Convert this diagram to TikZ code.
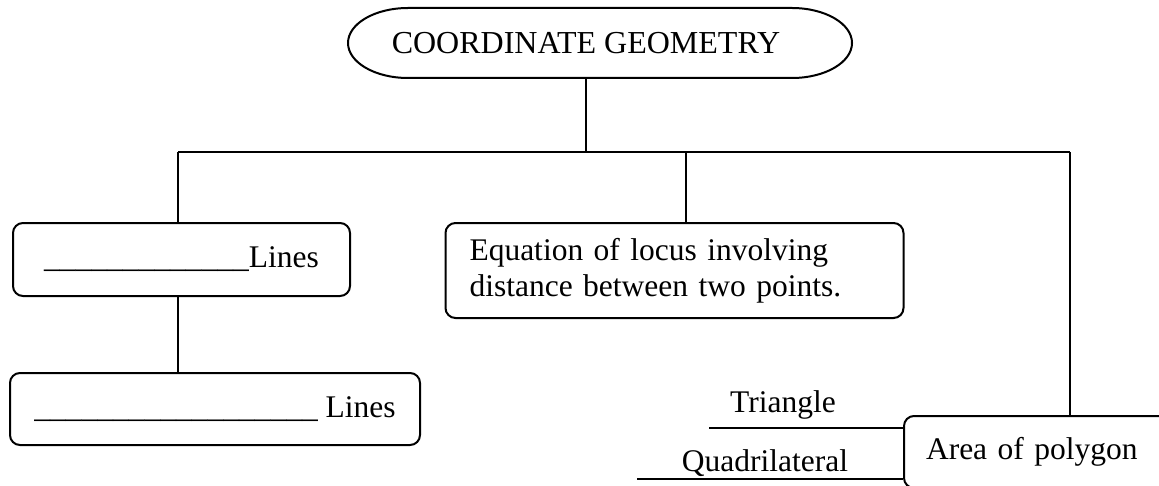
\documentclass[tikz,border=0pt]{standalone}
\usepackage{fontspec}
\setmainfont{Liberation Serif}
\tikzset{
  box/.style={draw,line width=1pt,rounded corners=5pt,font=\fontsize{15.75}{18}\selectfont},
  lbl/.style={font=\fontsize{15.75}{18}\selectfont,inner sep=0pt}
}
\begin{document}
\begin{tikzpicture}[x=0.5pt,y=-0.5pt,line width=1pt]
    \useasboundingbox (0,0) rectangle (1159,486);
    \clip (0,0) rectangle (1159,486);
    \node[lbl,font=\fontsize{16}{18}\selectfont] (top) at (586,43) {COORDINATE GEOMETRY};
    \coordinate (topNW) at (348,8);
    \coordinate (topSE) at (852,78);
    \draw ([xshift=30pt]topNW) -- ([xshift=-30pt]topNW -| topSE)
        arc[start angle=90,end angle=-90,x radius=30pt,y radius=17.5pt]
        -- ([xshift=30pt]topNW |- topSE)
        arc[start angle=270,end angle=90,x radius=30pt,y radius=17.5pt];
    \node[box,minimum width=168.5pt,minimum height=36.5pt] (lines1) at (181.5,259.5) {\_\_\_\_\_\_\_\_\_\_\_\_\_Lines};
    \node[box,minimum width=205pt,minimum height=36pt] (lines2) at (215,409) {\_\_\_\_\_\_\_\_\_\_\_\_\_\_\_\_\_\_ Lines};
    \node[box,minimum width=228.5pt,minimum height=47.5pt,text width=205pt,inner xsep=12pt,align=left] (locus) at (674.5,270.5) {Equation of locus involving\\distance between two points.};
    \node[box,anchor=north west,minimum width=150pt,minimum height=36pt,text width=128pt,inner xsep=11pt,align=left] (area) at (903,415) {Area of polygon};
    \node[lbl] (tri) at (783,405) {Triangle};
    \node[lbl] (quad) at (765,463) {Quadrilateral};
    \coordinate (busL) at (178,152);
    \coordinate (busM) at (686,152);
    \coordinate (busR) at (1070,152);
    \coordinate (triL) at (709,428);
    \coordinate (quadL) at (637,479);
    \draw (top.south |- topSE) -- (top.south |- busL);
    \draw (busL) -- (busR);
    \draw (busL) -- (busL |- lines1.north);
    \draw (busM) -- (busM |- locus.north);
    \draw (busR) -- (busR |- area.north);
    \draw (busL |- lines1.south) -- (busL |- lines2.north);
    \draw (triL) -- (triL -| area.west);
    \draw (quadL) -- (quadL -| area.west);
\end{tikzpicture}
\end{document}
